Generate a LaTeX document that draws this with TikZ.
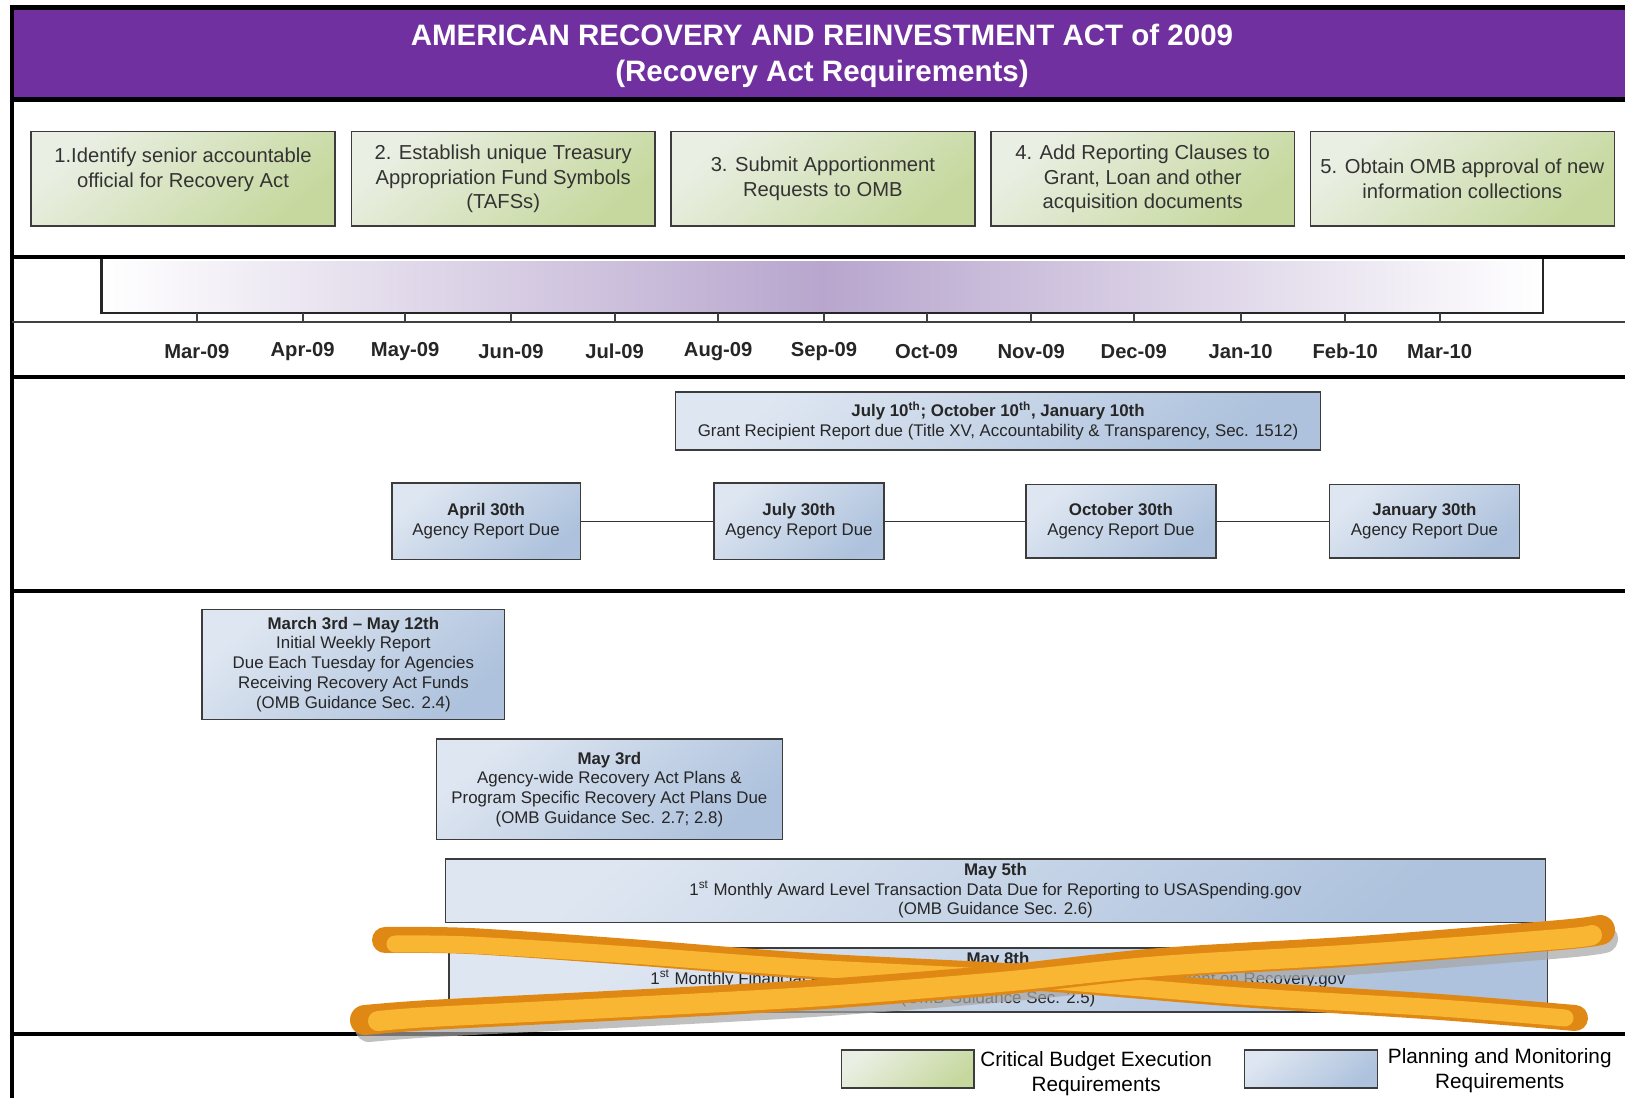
\documentclass[tikz,border=0pt]{standalone}
\usepackage{fontspec}
\setmainfont{Liberation Sans}
\usepackage{tikz}
\usetikzlibrary{positioning}
\definecolor{hdrpurple}{RGB}{112,48,160}
\definecolor{barpurple}{RGB}{184,166,206}
\definecolor{grnlight}{RGB}{234,239,228}
\definecolor{grndark}{RGB}{198,216,158}
\definecolor{blulight}{RGB}{222,230,241}
\definecolor{bludark}{RGB}{174,194,221}
\definecolor{boxline}{RGB}{60,60,60}
\definecolor{scrdark}{RGB}{224,136,20}
\definecolor{scrlight}{RGB}{249,182,50}
\newcommand{\px}{0.2mm}
\newcommand{\gtxt}{\fontsize{11.5}{14.2}\selectfont}
\newcommand{\btxt}{\fontsize{9.6}{11.2}\selectfont}

\begin{document}
\begin{tikzpicture}[x=0.2mm, y=-0.2mm,
	grn/.style={draw=boxline, line width=1.5*\px, inner sep=0pt, align=center,
		top color=grnlight, bottom color=grndark, shading angle=40,
		text=black!80, font=\gtxt},
	blu/.style={draw=boxline, line width=1.5*\px, inner sep=0pt, align=center,
		top color=blulight, bottom color=bludark, shading angle=40,
		text=black!85, font=\btxt},
	month/.style={font=\fontsize{11.5}{14}\selectfont\bfseries, text=black!85},
	sep/.style={line width=4*\px, black},
	scr/.style={line cap=round, line join=round}]
	\useasboundingbox (0,0) rectangle (1625,1098);
	\fill[white] (0,0) rectangle (1625,1098);

	% header
	\fill[hdrpurple] (12.4,7.5) rectangle (1625,99.5);
	\draw[line width=5*\px] (12.4,7.5) -- (1625,7.5);
	\draw[line width=5*\px] (12.4,99.5) -- (1625,99.5);
	\node[text=white, align=center, font=\fontsize{16.8}{20.1}\selectfont\bfseries]
		(title) at (822,56) {AMERICAN RECOVERY AND REINVESTMENT ACT of 2009\\(Recovery Act Requirements)};

	% frame
	\draw[sep] (12.4,5) -- (12.4,1098);
	\draw[sep] (12.4,257) -- (1625,257);
	\draw[sep] (12.4,377) -- (1625,377);
	\draw[sep] (12.4,590.7) -- (1625,590.7);
	\draw[sep] (12.4,1034.3) -- (1625,1034.3);
	\draw[line width=2*\px, black!75] (12.4,322.3) -- (1625,322.3);

	% requirements
	\node[grn, minimum width=303.7*\px, minimum height=94.3*\px] (g_1) at (183,178.8)
		{1.Identify senior accountable\\official for Recovery Act\\[-2pt]\rule{0pt}{0pt}};
	\node[grn, minimum width=303.7*\px, minimum height=94.3*\px] (g_2) at (503.2,178.8)
		{2. Establish unique Treasury\\Appropriation Fund Symbols\\(TAFSs)};
	\node[grn, minimum width=303.7*\px, minimum height=94.3*\px] (g_3) at (822.9,178.8)
		{3. Submit Apportionment\\Requests to OMB};
	\node[grn, minimum width=303.7*\px, minimum height=94.3*\px] (g_4) at (1142.7,178.8)
		{4. Add Reporting Clauses to\\Grant, Loan and other\\acquisition documents};
	\node[grn, minimum width=303.7*\px, minimum height=94.3*\px] (g_5) at (1462.4,178.8)
		{5. Obtain OMB approval of new\\information collections};

	% timeline
	\shade[left color=white, right color=white, middle color=barpurple] (101.6,261.2) rectangle (1543.2,313);
	\draw[line width=2.5*\px, black!85] (101.6,259) -- (101.6,313) -- (1543.2,313) -- (1543.2,259);
	\foreach \x/\m in {196.9/Mar-09, 302.6/Apr-09, 405.2/May-09, 511/Jun-09, 614.6/Jul-09,
		718.2/Aug-09, 824/Sep-09, 926.5/Oct-09, 1031.2/Nov-09, 1133.8/Dec-09,
		1240.6/Jan-10, 1345.2/Feb-10, 1439.6/Mar-10} {
		\draw[line width=2*\px, black!75] (\x,313) -- (\x,322.3);
		\node[month] (t_\m) at (\x,351.3) {\m};
	}

	% reports
	\node[blu, minimum width=644.7*\px, minimum height=58*\px] (grant) at (998,420.8)
		{\textbf{July 10\textsuperscript{th}; October 10\textsuperscript{th}, January 10th}\\Grant Recipient Report due (Title XV, Accountability \& Transparency, Sec. 1512)};
	\node[blu, minimum width=188.6*\px, minimum height=76.7*\px] (apr) at (486.1,521.3)
		{\textbf{April 30th}\\Agency Report Due};
	\node[blu, minimum width=170*\px, minimum height=76.7*\px] (jul) at (799,521.3)
		{\textbf{July 30th}\\Agency Report Due};
	\node[blu, minimum width=189.7*\px, minimum height=73.6*\px] (oct) at (1120.9,521.3)
		{\textbf{October 30th}\\Agency Report Due};
	\node[blu, minimum width=189.7*\px, minimum height=73.6*\px] (jan) at (1424.5,521.3)
		{\textbf{January 30th}\\Agency Report Due};
	\draw[line width=1.5*\px, black!80] (apr) -- (jul);
	\draw[line width=1.5*\px, black!80] (jul) -- (oct);
	\draw[line width=1.5*\px, black!80] (oct) -- (jan);

	% plans
	\node[blu, minimum width=302.6*\px, minimum height=109.9*\px] (weekly) at (353.4,664.3)
		{\textbf{March 3rd -- May 12th}\\Initial Weekly Report\\Due Each Tuesday for Agencies\\Receiving Recovery Act Funds\\(OMB Guidance Sec. 2.4)};
	\node[blu, minimum width=346.2*\px, minimum height=100.5*\px] (plans) at (609.4,789.2)
		{\textbf{May 3rd}\\Agency-wide Recovery Act Plans \&\\Program Specific Recovery Act Plans Due\\(OMB Guidance Sec. 2.7; 2.8)};
	\node[blu, minimum width=1099.6*\px, minimum height=63.2*\px] (award) at (995.5,890.8)
		{\textbf{May 5th}\\1\textsuperscript{st} Monthly Award Level Transaction Data Due for Reporting to USASpending.gov\\(OMB Guidance Sec. 2.6)};
	\node[blu, minimum width=1098.5*\px, minimum height=64.3*\px] (fin) at (998,979.9)
		{\textbf{May 8th}\\1\textsuperscript{st} Monthly Financial and Activity Reports Due for Reporting and Placement on Recovery.gov\\(OMB Guidance Sec. 2.5)};

	% crossed out
	\draw[scr, gray!70, opacity=.7, line width=28*\px] plot[smooth] coordinates
		{(369,1028) (434,1023) (612,1014) (813,1003) (1004,988) (1164,972) (1364,960) (1564,944) (1604,939)};
	\draw[scr, scrdark, line width=26*\px] plot[smooth] coordinates
		{(385,940) (470,941) (630,952) (810,966) (1040,978) (1240,994) (1440,1007) (1575,1018)};
	\draw[scr, scrlight, line width=17*\px] plot[smooth] coordinates
		{(395,944) (470,945) (630,955) (810,968) (1040,980) (1240,996) (1440,1008) (1565,1018)};
	\draw[scr, scrdark, line width=30*\px] plot[smooth] coordinates
		{(365,1020) (430,1015) (608,1006) (809,995) (1000,980) (1160,963) (1360,951) (1560,935) (1600,930)};
	\draw[scr, scrlight, line width=20*\px] plot[smooth] coordinates
		{(378,1021) (430,1017) (608,1008) (809,997) (1000,982) (1160,966) (1360,954) (1560,939) (1592,935)};

	% legend
	\node[grn, minimum width=132.6*\px, minimum height=38.3*\px] (leg_g) at (907.9,1069) {};
	\node[right=1mm of leg_g, align=center, inner sep=0pt, font=\fontsize{11.8}{14.2}\selectfont, yshift=-1mm]
		(leg_gt) {Critical Budget Execution\\Requirements};
	\node[blu, minimum width=132.7*\px, minimum height=38.3*\px] (leg_b) at (1311,1069) {};
	\node[right=1.9mm of leg_b, align=center, inner sep=0pt, font=\fontsize{11.8}{14.2}\selectfont, yshift=-0.4mm]
		(leg_bt) {Planning and Monitoring\\Requirements};
\end{tikzpicture}
\end{document}
